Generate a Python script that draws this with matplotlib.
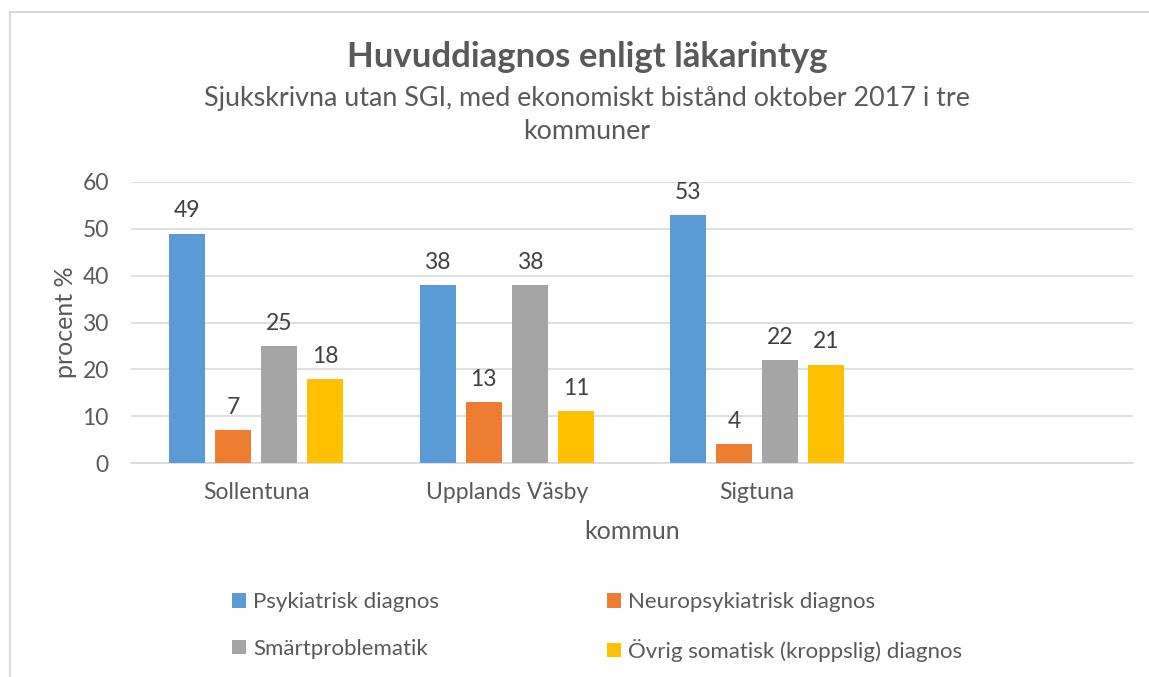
import matplotlib
matplotlib.use("Agg")
import matplotlib.pyplot as plt
from matplotlib.patches import Rectangle
import numpy as np

plt.rcParams['font.family'] = ['Lato', 'DejaVu Sans']

kommuner = ['Sollentuna', 'Upplands Väsby', 'Sigtuna', '']
serier = ['Psykiatrisk diagnos', 'Neuropsykiatrisk diagnos',
          'Smärtproblematik', 'Övrig somatisk (kroppslig) diagnos']
psykiatrisk = [49, 38, 53]
neuropsykiatrisk = [7, 13, 4]
smarta = [25, 38, 22]
ovrig = [18, 11, 21]
farger = ['#5B9BD5', '#ED7D31', '#A5A5A5', '#FFC000']
textfarg = '#595959'

fig = plt.figure(figsize=(11.49, 6.77), dpi=100)
ax = fig.add_axes([131/1149, 1-463/677, (1133-131)/1149, (463-182)/677])

x = np.arange(3)
bredd = 0.144
steg = 0.184
handles = []
for i, vals in enumerate([psykiatrisk, neuropsykiatrisk, smarta, ovrig]):
    pos = x + (i - 1.5) * steg
    b = ax.bar(pos, vals, bredd, color=farger[i], label=serier[i], zorder=3)
    handles.append(b)
    for p, v in zip(pos, vals):
        ax.text(p, v + 2.6, str(v), ha='center', va='bottom', fontsize=16.5, color='#404040')

ax.set_xlim(-0.5, 3.5)
ax.set_ylim(0, 60)
ax.set_yticks(range(0, 61, 10))
ax.set_xticks(range(4))
ax.set_xticklabels(kommuner)
ax.tick_params(axis='both', length=0, labelsize=16.5, colors=textfarg)
ax.tick_params(axis='x', pad=14)
ax.tick_params(axis='y', pad=16)
ax.grid(axis='y', color='#D9D9D9', linewidth=1.2, zorder=0)
for s in ['top', 'right', 'left']:
    ax.spines[s].set_visible(False)
ax.spines['bottom'].set_color('#D9D9D9')
ax.spines['bottom'].set_linewidth(1.2)
ax.set_xlabel('kommun', fontsize=18, color=textfarg, labelpad=12)
ax.set_ylabel('procent %', fontsize=18, color=textfarg, labelpad=4)

fig.text(587/1149, 1-57/677, 'Huvuddiagnos enligt läkarintyg', ha='center', va='center',
         fontsize=25, fontweight='bold', color=textfarg)
fig.text(587/1149, 1-115/677, 'Sjukskrivna utan SGI, med ekonomiskt bistånd oktober 2017 i tre\nkommuner',
         ha='center', va='center', fontsize=19.4, color=textfarg, linespacing=1.42)

leg = fig.legend([handles[0], handles[2], handles[1], handles[3]],
                 [serier[0], serier[2], serier[1], serier[3]],
                 ncol=2, loc='center left', bbox_to_anchor=(212/1149, 1-627/677),
                 frameon=False, fontsize=16, labelcolor=textfarg,
                 handlelength=0.65, handleheight=0.65, handletextpad=0.3,
                 columnspacing=7.55, labelspacing=1.2)

fig.patches.append(Rectangle((10/1149, -0.5), 2, 1.5 - 12/677, transform=fig.transFigure,
                             fill=False, edgecolor='#D9D9D9', linewidth=1.5))

fig.savefig('out.png', dpi=100)
